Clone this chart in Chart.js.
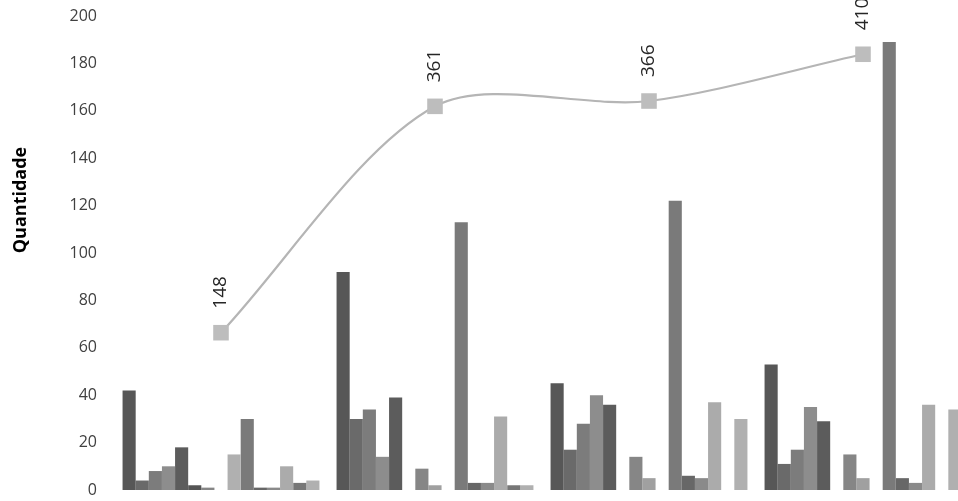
<!DOCTYPE html>
<html>
<head>
<meta charset="utf-8">
<script src="https://cdn.jsdelivr.net/npm/chart.js@4.4.1/dist/chart.umd.min.js"></script>
<style>
  html, body { margin: 0; padding: 0; background: #fff; overflow: hidden; width: 958px; height: 501px; }
  .wrap { position: relative; width: 981px; height: 501px; }
</style>
</head>
<body>
<div class="wrap"><canvas id="myChart"></canvas></div>
<script>
var categorias = ["1", "2", "3", "4"];

// bar series, in slot order left to right inside each group
var serie1 = [42, 92, 45, 53];
var serie2 = [4, 30, 17, 11];
var serie3 = [8, 34, 28, 17];
var serie4 = [10, 14, 40, 35];
var serie5 = [18, 39, 36, 29];
var serie6 = [2, 0, 0, 0];
var serie7 = [1, 9, 14, 15];
var serie8 = [0, 2, 5, 5];
var serie9 = [15, 0, 0, 0];
var serie10 = [30, 113, 122, 189];
var serie11 = [1, 3, 6, 5];
var serie12 = [1, 3, 5, 3];
var serie13 = [10, 31, 37, 36];
var serie14 = [3, 2, 0, 0];
var serie15 = [4, 2, 30, 34];

// line (secondary axis, not shown)
var total = [148, 361, 366, 410];

var yTicks = [0, 20, 40, 60, 80, 100, 120, 140, 160, 180, 200];

var series = [serie1, serie2, serie3, serie4, serie5, serie6, serie7, serie8,
  serie9, serie10, serie11, serie12, serie13, serie14, serie15];
var cores = ["#575757", "#6a6a6a", "#7c7c7c", "#8d8d8d", "#5c5c5c", "#555555", "#868686",
  "#a0a0a0", "#b0b0b0", "#7a7a7a", "#676767", "#8a8a8a", "#ababab", "#777777", "#b0b0b0"];

var datasets = [];
datasets.push({
  type: "line",
  label: "Total",
  data: total,
  yAxisID: "y1",
  order: 0,
  borderColor: "#b5b5b5",
  borderWidth: 2.2,
  tension: 0.3,
  pointStyle: "rect",
  pointRadius: 11,
  pointBackgroundColor: "#bdbdbd",
  pointBorderWidth: 0,
});
for (var i = 0; i < series.length; i++) {
  datasets.push({
    type: "bar",
    label: "Serie " + (i + 1),
    data: series[i],
    yAxisID: "y",
    order: 1,
    backgroundColor: cores[i],
    barPercentage: 1,
    categoryPercentage: 0.92,
  });
}

var textos = {
  id: "textos",
  afterDatasetsDraw: function (c) {
    var ctx = c.ctx;
    var meta = c.getDatasetMeta(0);
    ctx.save();
    ctx.fillStyle = "#262626";
    ctx.font = "19px 'Open Sans'";
    ctx.textAlign = "left";
    ctx.textBaseline = "middle";
    meta.data.forEach(function (pt, idx) {
      ctx.save();
      ctx.translate(pt.x, pt.y - 24);
      ctx.rotate(-Math.PI / 2);
      ctx.fillText(String(total[idx]), 0, 0);
      ctx.restore();
    });
    // axis title
    ctx.fillStyle = "#000";
    ctx.font = "bold 18px 'Open Sans'";
    ctx.textAlign = "center";
    ctx.translate(21, 200);
    ctx.rotate(-Math.PI / 2);
    ctx.fillText("Quantidade", 0, 0);
    ctx.restore();
  },
};

Chart.defaults.font.family = "'Open Sans', sans-serif";

var chart = document.getElementById("myChart").getContext("2d");
var myChart = new Chart(chart, {
  data: {
    labels: categorias,
    datasets: datasets,
  },
  plugins: [textos],
  options: {
    responsive: true,
    maintainAspectRatio: false,
    animation: false,
    layout: { padding: { top: 16, bottom: 7, left: 0, right: 6 } },
    plugins: {
      legend: { display: false },
      tooltip: { enabled: false },
    },
    scales: {
      x: {
        display: false,
        offset: true,
      },
      y: {
        min: 0,
        max: 200,
        afterBuildTicks: function (s) {
          s.ticks = yTicks.map(function (v) { return { value: v }; });
        },
        afterFit: function (s) {
          s.width = 114;
          s.paddingTop = 0;
          s.paddingBottom = 0;
        },
        grid: { display: false, drawTicks: false },
        border: { display: false },
        ticks: {
          padding: 17,
          color: "#404040",
          font: { size: 16 },
        },
      },
      y1: {
        display: false,
        min: 0,
        max: 446,
      },
    },
  },
});
</script>
</body>
</html>
